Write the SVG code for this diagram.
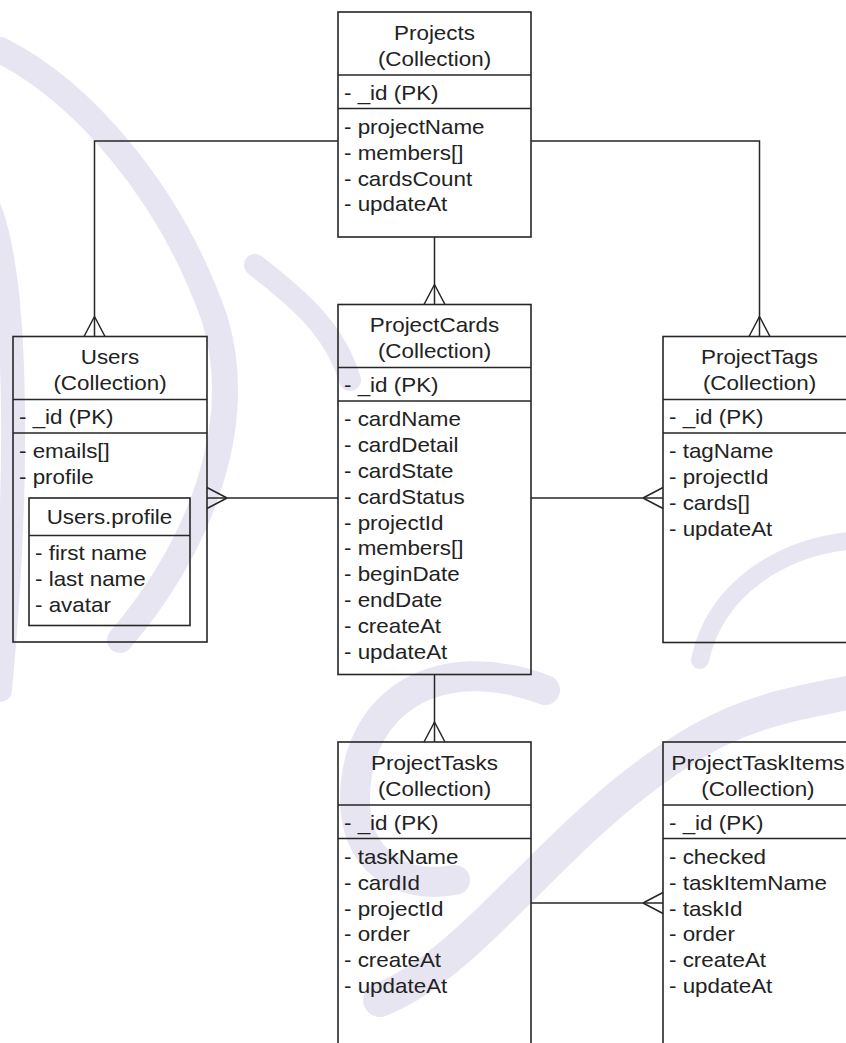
<svg xmlns="http://www.w3.org/2000/svg" width="846" height="1043" viewBox="0 0 846 1043">
  <style>
    .box { fill: none; stroke: #262626; stroke-width: 1.6; }
    .sep { stroke: #262626; stroke-width: 1.4; }
    .t { font-family: "Liberation Sans", Arial, sans-serif; font-size: 20px; fill: #222222; }
    .c { text-anchor: middle; }
    .link { fill: none; stroke: #262626; stroke-width: 1.5; marker-end: url(#many); }
    .wm { fill: none; stroke: #d9d3ea; stroke-linecap: round; opacity: 0.6; }
  </style>
  <defs>
    <!-- crow's foot ("many") end, drawn pointing along +x into the entity -->
    <marker id="many" markerUnits="userSpaceOnUse" viewBox="-22 -12 24 24" refX="0" refY="0" markerWidth="24" markerHeight="24" orient="auto">
      <path d="M -20 0 L 0 -10.5 M -20 0 L 0 10.5" fill="none" stroke="#262626" stroke-width="1.5"/>
    </marker>
  </defs>

  <rect width="846" height="1043" fill="#ffffff"/>

  <!-- background watermark swooshes -->
  <g id="watermark">
    <path class="wm" stroke-width="26" d="M 0 50 C 80 90, 170 190, 215 320 C 245 420, 205 540, 120 640"/>
    <path class="wm" stroke-width="24" d="M -10 210 C 20 290, 18 500, 0 690"/>
    <path class="wm" stroke-width="22" d="M 255 265 C 300 300, 335 330, 350 380"/>
    <path class="wm" stroke-width="30" d="M 545 690 C 440 650, 355 700, 355 800 C 355 860, 400 890, 455 880"/>
    <path class="wm" stroke-width="34" d="M 380 1000 C 480 960, 560 820, 700 740 C 760 705, 820 700, 860 690"/>
    <path class="wm" stroke-width="18" d="M 700 660 C 715 590, 780 545, 860 540"/>
  </g>

  <!-- relationships -->
  <g id="connectors">
    <path class="link" d="M 338 141 H 94.5 V 336.5"/>
    <path class="link" d="M 531 141 H 759.5 V 336.5"/>
    <path class="link" d="M 434.5 237 V 304.5"/>
    <path class="link" d="M 434.5 674.5 V 742"/>
    <path class="link" d="M 338 498 H 207"/>
    <path class="link" d="M 531 498 H 663"/>
    <path class="link" d="M 531 903 H 663"/>
  </g>

  <!-- Projects -->
  <g id="projects" transform="translate(338 12)">
    <rect class="box" x="0" y="0" width="193" height="225"/>
    <line class="sep" x1="0" y1="63" x2="193" y2="63"/>
    <line class="sep" x1="0" y1="96.5" x2="193" y2="96.5"/>
    <g class="t" transform="scale(1.12 1)">
      <text class="c" x="86.16" y="28">Projects</text>
      <text class="c" x="86.16" y="54">(Collection)</text>
      <text x="5.36" y="88">- _id (PK)</text>
      <text x="5.36" y="122">- projectName</text>
      <text x="5.36" y="147.8">- members[]</text>
      <text x="5.36" y="173.6">- cardsCount</text>
      <text x="5.36" y="199.4">- updateAt</text>
    </g>
  </g>

  <!-- Users -->
  <g id="users" transform="translate(13 336.5)">
    <rect class="box" x="0" y="0" width="194" height="305.5"/>
    <line class="sep" x1="0" y1="63" x2="194" y2="63"/>
    <line class="sep" x1="0" y1="96.5" x2="194" y2="96.5"/>
    <g class="t" transform="scale(1.12 1)">
      <text class="c" x="86.6" y="28">Users</text>
      <text class="c" x="86.6" y="54">(Collection)</text>
      <text x="5.36" y="88">- _id (PK)</text>
      <text x="5.36" y="122">- emails[]</text>
      <text x="5.36" y="147.8">- profile</text>
    </g>
    <!-- embedded document -->
    <g id="users-profile">
      <rect class="box" x="16" y="161.5" width="161" height="127.5"/>
      <line class="sep" x1="16" y1="199" x2="177" y2="199"/>
      <g class="t" transform="scale(1.12 1)">
        <text class="c" x="86.16" y="187.5">Users.profile</text>
        <text x="19.64" y="224">- first name</text>
        <text x="19.64" y="249.8">- last name</text>
        <text x="19.64" y="275.6">- avatar</text>
      </g>
    </g>
  </g>

  <!-- ProjectCards -->
  <g id="projectcards" transform="translate(338 304.5)">
    <rect class="box" x="0" y="0" width="193" height="370"/>
    <line class="sep" x1="0" y1="63" x2="193" y2="63"/>
    <line class="sep" x1="0" y1="96.5" x2="193" y2="96.5"/>
    <g class="t" transform="scale(1.12 1)">
      <text class="c" x="86.16" y="28">ProjectCards</text>
      <text class="c" x="86.16" y="54">(Collection)</text>
      <text x="5.36" y="88">- _id (PK)</text>
      <text x="5.36" y="122">- cardName</text>
      <text x="5.36" y="147.8">- cardDetail</text>
      <text x="5.36" y="173.6">- cardState</text>
      <text x="5.36" y="199.4">- cardStatus</text>
      <text x="5.36" y="225.2">- projectId</text>
      <text x="5.36" y="251">- members[]</text>
      <text x="5.36" y="276.8">- beginDate</text>
      <text x="5.36" y="302.6">- endDate</text>
      <text x="5.36" y="328.4">- createAt</text>
      <text x="5.36" y="354.2">- updateAt</text>
    </g>
  </g>

  <!-- ProjectTags -->
  <g id="projecttags" transform="translate(663 336.5)">
    <rect class="box" x="0" y="0" width="193" height="306"/>
    <line class="sep" x1="0" y1="63" x2="193" y2="63"/>
    <line class="sep" x1="0" y1="96.5" x2="193" y2="96.5"/>
    <g class="t" transform="scale(1.12 1)">
      <text class="c" x="86.16" y="28">ProjectTags</text>
      <text class="c" x="86.16" y="54">(Collection)</text>
      <text x="5.36" y="88">- _id (PK)</text>
      <text x="5.36" y="122">- tagName</text>
      <text x="5.36" y="147.8">- projectId</text>
      <text x="5.36" y="173.6">- cards[]</text>
      <text x="5.36" y="199.4">- updateAt</text>
    </g>
  </g>

  <!-- ProjectTasks -->
  <g id="projecttasks" transform="translate(338 742)">
    <rect class="box" x="0" y="0" width="193" height="330"/>
    <line class="sep" x1="0" y1="63" x2="193" y2="63"/>
    <line class="sep" x1="0" y1="96.5" x2="193" y2="96.5"/>
    <g class="t" transform="scale(1.12 1)">
      <text class="c" x="86.16" y="28">ProjectTasks</text>
      <text class="c" x="86.16" y="54">(Collection)</text>
      <text x="5.36" y="88">- _id (PK)</text>
      <text x="5.36" y="122">- taskName</text>
      <text x="5.36" y="147.8">- cardId</text>
      <text x="5.36" y="173.6">- projectId</text>
      <text x="5.36" y="199.4">- order</text>
      <text x="5.36" y="225.2">- createAt</text>
      <text x="5.36" y="251">- updateAt</text>
    </g>
  </g>

  <!-- ProjectTaskItems -->
  <g id="projecttaskitems" transform="translate(663 742)">
    <rect class="box" x="0" y="0" width="193" height="330"/>
    <line class="sep" x1="0" y1="63" x2="193" y2="63"/>
    <line class="sep" x1="0" y1="96.5" x2="193" y2="96.5"/>
    <g class="t" transform="scale(1.12 1)">
      <text class="c" x="84.8" y="28" textLength="155" lengthAdjust="spacingAndGlyphs">ProjectTaskItems</text>
      <text class="c" x="84.8" y="54">(Collection)</text>
      <text x="5.36" y="88">- _id (PK)</text>
      <text x="5.36" y="122">- checked</text>
      <text x="5.36" y="147.8">- taskItemName</text>
      <text x="5.36" y="173.6">- taskId</text>
      <text x="5.36" y="199.4">- order</text>
      <text x="5.36" y="225.2">- createAt</text>
      <text x="5.36" y="251">- updateAt</text>
    </g>
  </g>
</svg>
